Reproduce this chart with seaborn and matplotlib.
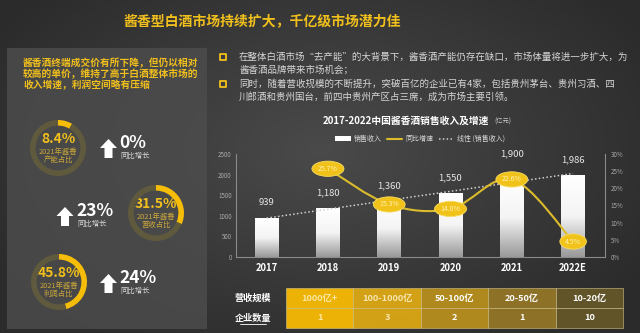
import numpy as np
import pandas as pd
import matplotlib
matplotlib.use("Agg")
import matplotlib.pyplot as plt
import seaborn as sns
from matplotlib.patches import Rectangle, Polygon, PathPatch
from matplotlib.path import Path
from matplotlib.lines import Line2D
import matplotlib.colors as mcolors

# ---------------- data ----------------
years = ["2017", "2018", "2019", "2020", "2021", "2022E"]
sales = [939, 1180, 1360, 1550, 1900, 1986]
growth_years = ["2018", "2019", "2020", "2021", "2022E"]
growth = [25.7, 15.3, 14.0, 22.6, 4.5]

scale_labels = ["1000亿+", "100-1000亿", "50-100亿", "20-50亿", "10-20亿"]
company_counts = [1, 3, 2, 1, 10]

donut_shares = [8.4, 31.5, 45.8]
donut_names = ["产能占比", "营收占比", "利润占比"]
donut_yoy = [0, 23, 24]

title = "酱香型白酒市场持续扩大，千亿级市场潜力佳"
left_text = ["酱香酒终端成交价有所下降，但仍以相对",
             "较高的单价，维持了高于白酒整体市场的",
             "收入增速，利润空间略有压缩"]
bullet_text = [["在整体白酒市场\u201c去产能\u201d的大背景下，酱香酒产能仍存在缺口，市场体量将进一步扩大，为",
                "酱香酒品牌带来市场机会；"],
               ["同时，随着营收规模的不断提升，突破百亿的企业已有4家，包括贵州茅台、贵州习酒、四",
                "川郎酒和贵州国台，前四中贵州产区占三席，成为市场主要引领。"]]

# ---------------- style ----------------
sns.set_theme(style="dark")
plt.rcParams["font.family"] = ["Noto Sans CJK SC", "DejaVu Sans"]
plt.rcParams["axes.unicode_minus"] = False

W, H = 640, 333
fig = plt.figure(figsize=(W / 100, H / 100), dpi=100)
fig.patch.set_facecolor("#3a3a3a")

bg = fig.add_axes([0, 0, 1, 1])
bg.set_xlim(0, W)
bg.set_ylim(H, 0)
bg.axis("off")

# background gradient
yy, xx = np.mgrid[0:H, 0:W]
d = np.sqrt(((xx - W * 0.5) / (W * 0.6)) ** 2 + ((yy - H * 0.45) / (H * 0.7)) ** 2)
d = np.clip(d, 0, 1)
c_center = np.array(mcolors.to_rgb("#4a4a4a"))
c_edge = np.array(mcolors.to_rgb("#2b2b2b"))
img = c_center[None, None, :] * (1 - d[..., None]) + c_edge[None, None, :] * d[..., None]
bg.imshow(img, extent=[0, W, H, 0], aspect="auto", zorder=0)

GOLD = "#f2c01c"

# title
bg.text(262, 21, title, ha="center", va="center", fontsize=10, fontweight="bold", color=GOLD, zorder=3)

# left panel
bg.add_patch(Rectangle((7, 48), 200, 281, fc="#4c4c4c", ec="none", alpha=0.85, zorder=1))
for i, line in enumerate(left_text):
    bg.text(23, 63 + i * 11, line, ha="left", va="center", fontsize=7, fontweight="bold",
            color=GOLD, zorder=3)

# donuts
centers = [(58, 148), (156, 213), (59, 282)]
arrows = [(108.5, 139), (65, 207), (108.5, 274)]
r = 35
for k, (share, name, yoy) in enumerate(zip(donut_shares, donut_names, donut_yoy)):
    cx, cy = centers[k]
    dax = fig.add_axes([(cx - r) / W, (H - cy - r) / H, 2 * r / W, 2 * r / H])
    dax.pie([share, 100 - share], startangle=90, counterclock=False,
            colors=["#f5bd08", "#5f5a3d"], wedgeprops=dict(width=0.2, edgecolor="none"))
    dax.set_aspect("equal")
    dax.axis("off")
    bg.text(cx, cy - 9, f"{share}%", ha="center", va="center", fontsize=10, fontweight="bold",
            color=GOLD, zorder=3)
    bg.text(cx, cy + 4, "2021年酱香", ha="center", va="center", fontsize=5.3, color="#c9a63a", zorder=3)
    bg.text(cx, cy + 12, name, ha="center", va="center", fontsize=5.3, color="#c9a63a", zorder=3)
    ax_, top = arrows[k]
    poly = [(ax_, top), (ax_ + 8.5, top + 9), (ax_ + 4, top + 9), (ax_ + 4, top + 19),
            (ax_ - 4, top + 19), (ax_ - 4, top + 9), (ax_ - 8.5, top + 9)]
    bg.add_patch(Polygon(poly, closed=True, fc="white", ec="none", zorder=3))
    bg.text(ax_ + 11, top + 4, f"{yoy}%", ha="left", va="center", fontsize=12.5,
            fontweight="bold", color="white", zorder=3)
    bg.text(ax_ + 12, top + 17, "同比增长", ha="left", va="center", fontsize=5.3,
            color="#d8d8d8", zorder=3)

# bullets
by = [57, 84]
for i, lines in enumerate(bullet_text):
    bg.scatter([223], [by[i]], marker="s", s=14, facecolor="#3a3a3a", edgecolor=GOLD,
               linewidth=1.3, zorder=3)
    for j, line in enumerate(lines):
        bg.text(239, by[i] + j * 13, line, ha="left", va="center", fontsize=6.8,
                color="#d6d6d6", zorder=3)

# chart title + legend
bg.text(406, 121, "2017-2022中国酱香酒销售收入及增速", ha="center", va="center", fontsize=7,
        fontweight="bold", color="white", zorder=3)
bg.text(494, 122, "(亿元)", ha="left", va="center", fontsize=4.5, color="#cccccc", zorder=3)

# ---------------- chart ----------------
ax = fig.add_axes([236 / W, (H - 257) / H, (605 - 236) / W, 103 / H])
ax.set_facecolor("none")
df = pd.DataFrame({"year": years, "sales": sales})
sns.barplot(data=df, x="year", y="sales", ax=ax, color="white", width=0.39, saturation=1,
            edgecolor="none", zorder=2)
ax.set_ylim(0, 2500)
ax.set_xlim(-0.5, 5.52)

grad = np.linspace(0, 1, 100)[:, None]
cmap = mcolors.LinearSegmentedColormap.from_list("bar", ["#ffffff", "#f4f4f4", "#9a9a9a"])
for p in list(ax.patches):
    x0, w, h = p.get_x(), p.get_width(), p.get_height()
    im = ax.imshow(grad, extent=[x0, x0 + w, h, 0], cmap=cmap, aspect="auto", zorder=2,
                   vmin=0, vmax=1, origin="upper")
    im.set_extent([x0, x0 + w, 0, h])
    im.set_clip_path(p)
ax.set_ylim(0, 2500)
ax.set_xlim(-0.5, 5.52)

# value labels
xs = np.arange(len(years))
offsets = [8, 8, 8, 8, 15, 8]
for i, v in enumerate(sales):
    ax.annotate(f"{v:,}", (i, v), xytext=(0, offsets[i]), textcoords="offset points",
                ha="center", va="bottom", fontsize=6.8, color="#e6e6e6", zorder=5)

# trend line
coef = np.polyfit(xs, sales, 1)
ax.plot(xs, np.polyval(coef, xs), linestyle=(0, (1, 1.5)), color="#d0d0d0", lw=1.1, zorder=3)

ax.set_yticks(range(0, 2501, 500))
ax.set_yticklabels([str(t) for t in range(0, 2501, 500)])
ax.tick_params(axis="y", labelsize=4.5, colors="#a8a8a8", length=0, pad=3)
ax.tick_params(axis="x", labelsize=6.8, colors="white", length=0, pad=4)
for lab in ax.get_xticklabels():
    lab.set_fontweight("bold")
ax.set_xlabel("")
ax.set_ylabel("")
for s in ["top", "right"]:
    ax.spines[s].set_visible(False)
for s in ["left", "bottom"]:
    ax.spines[s].set_visible(True)
    ax.spines[s].set_color("#8a8a8a")
    ax.spines[s].set_linewidth(0.8)
ax.grid(False)

ax2 = ax.twinx()
ax2.set_ylim(0, 30)
ax2.set_yticks(range(0, 31, 5))
ax2.set_yticklabels([f"{t}%" for t in range(0, 31, 5)])
ax2.tick_params(axis="y", labelsize=4.5, colors="#a8a8a8", length=0, pad=4)
for s in ["top", "left", "bottom"]:
    ax2.spines[s].set_visible(False)
ax2.spines["right"].set_visible(True)
ax2.spines["right"].set_color("#8a8a8a")
ax2.spines["right"].set_linewidth(0.8)
ax2.grid(False)

# smooth growth line (Catmull-Rom -> Bezier in data coordinates)
gx = np.array([years.index(y) for y in growth_years], dtype=float)
gy = np.array(growth, dtype=float)
P = np.column_stack([gx, gy])
Pe = np.vstack([P[0], P, P[-1]])
verts = [tuple(P[0])]
codes = [Path.MOVETO]
for i in range(len(P) - 1):
    p0, p1, p2, p3 = Pe[i], Pe[i + 1], Pe[i + 2], Pe[i + 3]
    c1 = p1 + (p2 - p0) / 6
    c2 = p2 - (p3 - p1) / 6
    verts += [tuple(c1), tuple(c2), tuple(p2)]
    codes += [Path.CURVE4] * 3
ax2.add_patch(PathPatch(Path(verts, codes), fc="none", ec="#dcbc2c", lw=1.5, zorder=4))
for x_, g in zip(gx, gy):
    ax2.text(x_, g, f"{g}%", ha="center", va="center", fontsize=5, color="#fff1b0", zorder=6,
             bbox=dict(boxstyle="ellipse,pad=0.2", fc="#f0c21a", ec="#f8dc60", lw=0.6))

handles = [Rectangle((0, 0), 1, 1, fc="white", ec="none"),
           Line2D([0], [0], color="#dcbc2c", lw=1.5),
           Line2D([0], [0], color="#d0d0d0", lw=1.1, linestyle=(0, (1, 1.5)))]
fig.legend(handles, ["销售收入", "同比增速", "线性 (销售收入)"], loc="center",
           bbox_to_anchor=(420 / W, 1 - 139 / H), ncol=3, frameon=False, fontsize=5,
           labelcolor="#d8d8d8", handlelength=2.2, handleheight=0.6, columnspacing=0.8,
           handletextpad=0.4)

# ---------------- table ----------------
cell_colors = ["#f3b705", "#d8a514", "#b48d1e", "#907426", "#635629"]
cell_text_colors = ["#fbe7a0", "#f8e6b0", "#ffffff", "#ffffff", "#ffffff"]
x0t, cw = 286, 67.4
rows = [288, 308, 328]
for i, (lab, cnt) in enumerate(zip(scale_labels, company_counts)):
    xl = x0t + i * cw
    for j in range(2):
        bg.add_patch(Rectangle((xl, rows[j]), cw, rows[j + 1] - rows[j], fc=cell_colors[i],
                               ec="#d8c890", lw=0.4, alpha=0.97, zorder=2))
    bg.text(xl + cw / 2, 298, lab, ha="center", va="center", fontsize=6.6, fontweight="bold",
            color=cell_text_colors[i], zorder=3)
    bg.text(xl + cw / 2, 318, str(cnt), ha="center", va="center", fontsize=6.6,
            fontweight="bold", color=cell_text_colors[i], zorder=3)
bg.text(253, 298, "营收规模", ha="center", va="center", fontsize=6.6, fontweight="bold",
        color="white", zorder=3)
bg.text(253, 318, "企业数量", ha="center", va="center", fontsize=6.6, fontweight="bold",
        color="white", zorder=3)
bg.plot([240, 266], [324, 324], color="white", lw=0.6, zorder=3)

fig.savefig("out.png", dpi=100, facecolor=fig.get_facecolor())
